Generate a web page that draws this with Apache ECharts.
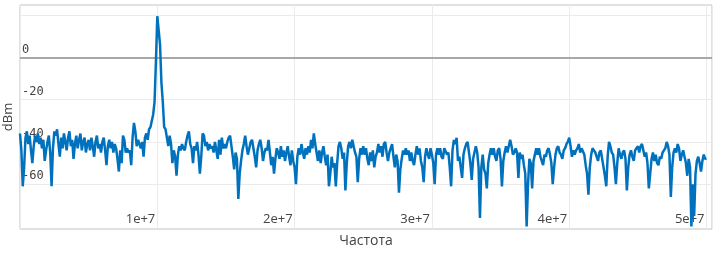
<!DOCTYPE html>
<html>
<head>
<meta charset="utf-8">
<script src="https://cdn.jsdelivr.net/npm/echarts@6/dist/echarts.min.js"></script>
<style>
html,body{margin:0;padding:0;background:#fff;}
#chart{width:721px;height:253px;}
</style>
</head>
<body>
<div id="chart"></div>
<script>
// Frequency grid: first bin and bin spacing (Hz)
const freqStart = 0;
const freqStep = 1e5;

// Power level per frequency bin (dBm)
const levels = [
 -36,-44,-61,-52,-38,-35,-41,-37,-44,-50,
 -42,-37,-40,-36,-41,-38,-43,-39,-49,-44,
 -40,-37,-45,-61,-43,-35,-37,-34,-41,-47,
 -38,-43,-36,-40,-44,-38,-35,-42,-39,-48,
 -41,-37,-43,-39,-36,-44,-40,-38,-45,-41,
 -39,-44,-38,-42,-47,-40,-37,-43,-41,-45,
 -40,-38,-44,-51,-42,-39,-43,-40,-45,-41,
 -43,-48,-54,-44,-50,-37,-39,-45,-43,-45,
 -44,-51,-38,-31,-35,-42,-39,-41,-43,-40,
 -47,-38,-36,-39,-34,-33,-30,-27,-21,-2,
 19.5,20,6,-12,-21,-33,-34,-38,-42,-37,
 -41,-50,-44,-47,-56,-46,-42,-44,-41,-43,
 -44,-40,-37,-35,-41,-43,-50,-42,-44,-40,
 -46,-55,-47,-36,-37,-42,-40,-44,-41,-43,
 -42,-45,-40,-44,-48,-39,-46,-38,-43,-41,
 -43,-40,-38,-37,-42,-47,-53,-45,-48,-67,
 -55,-49,-44,-41,-37,-42,-46,-43,-40,-39,
 -39,-47,-52,-44,-41,-39,-43,-49,-45,-43,
 -44,-39,-45,-51,-47,-55,-48,-43,-45,-48,
 -42,-47,-44,-49,-45,-42,-47,-51,-44,-49,
 -52,-60,-47,-43,-46,-41,-45,-48,-43,-46,
 -42,-45,-39,-43,-36,-41,-45,-49,-44,-50,
 -45,-42,-47,-51,-46,-61,-55,-47,-52,-50,
 -61,-50,-42,-40,-43,-48,-45,-63,-50,-42,
 -40,-43,-39,-42,-45,-47,-59,-48,-43,-46,
 -42,-46,-43,-48,-51,-45,-49,-44,-52,-47,
 -45,-41,-45,-42,-47,-41,-40,-45,-49,-45,
 -45,-41,-47,-52,-46,-49,-64,-53,-48,-44,
 -46,-43,-46,-44,-49,-45,-49,-51,-46,-42,
 -46,-43,-49,-52,-59,-47,-43,-46,-48,-43,
 -46,-50,-60,-46,-43,-46,-43,-47,-48,-43,
 -43,-46,-45,-52,-61,-44,-39,-41,-38,-49,
 -47,-52,-57,-46,-43,-41,-40,-45,-50,-58,
 -48,-45,-42,-45,-52,-76,-52,-46,-53,-55,
 -62,-50,-46,-43,-46,-43,-47,-49,-44,-43,
 -48,-61,-49,-45,-42,-45,-42,-39,-42,-46,
 -45,-43,-45,-57,-45,-48,-46,-51,-55,-80,
 -60,-48,-50,-62,-49,-46,-43,-46,-43,-47,
 -49,-51,-46,-47,-44,-43,-46,-50,-60,-52,
 -46,-43,-42,-45,-46,-48,-44,-43,-41,-40,
 -38,-42,-47,-44,-46,-44,-43,-41,-45,-43,
 -43,-46,-51,-55,-65,-52,-46,-43,-44,-45,
 -47,-49,-45,-44,-48,-52,-56,-61,-47,-40,
 -42,-45,-46,-52,-60,-50,-43,-46,-48,-45,
 -44,-48,-63,-52,-46,-44,-47,-49,-44,-43,
 -42,-45,-42,-41,-44,-47,-45,-50,-62,-55,
 -48,-45,-49,-46,-50,-51,-47,-48,-45,-44,
 -43,-40,-42,-46,-66,-52,-45,-43,-45,-41,
 -43,-49,-46,-44,-47,-50,-56,-48,-52,-80,
 -60,-75,-55,-49,-47,-50,-54,-49,-46,-48,
 -48
];

// Axis ranges and tick labels
const xRange = [0, 5.04e7];
const xTickStep = 1e7;
const xTickLabels = {10000000: '1e+7', 20000000: '2e+7', 30000000: '3e+7', 40000000: '4e+7', 50000000: '5e+7'};
const yRange = [-81.2, 24.8];
const yTickLabels = [0, -20, -40, -60];

const seriesData = levels.map((v, i) => [freqStart + i * freqStep, v]);

const chart = echarts.init(document.getElementById('chart'), null, {renderer: 'canvas'});
chart.setOption({
  animation: false,
  backgroundColor: '#ffffff',
  grid: {left: 20, right: 9, top: 5, bottom: 24, show: true, containLabel: false, outerBoundsMode: 'none',
         borderColor: '#c2c2c2', borderWidth: 1, backgroundColor: 'transparent'},
  xAxis: {
    type: 'value',
    min: xRange[0], max: xRange[1], interval: xTickStep,
    name: 'Частота', nameLocation: 'middle', nameGap: 5,
    nameTextStyle: {fontFamily: 'Open Sans', fontSize: 14, color: '#444', verticalAlign: 'top'},
    axisLine: {show: false}, axisTick: {show: false},
    splitLine: {show: true, lineStyle: {color: '#ebebeb', width: 1}},
    axisLabel: {
      inside: true, margin: 3, align: 'right', padding: [0, 2, 0, 0],
      fontFamily: 'Open Sans', fontSize: 13, color: '#444',
      showMinLabel: false, showMaxLabel: false,
      formatter: v => xTickLabels[Math.round(v)] || ''
    }
  },
  yAxis: {
    type: 'value',
    min: yRange[0], max: yRange[1], splitNumber: 5,
    name: 'dBm', nameLocation: 'middle', nameGap: 5, nameRotate: 90, nameMoveOverlap: false,
    nameTextStyle: {fontFamily: 'Open Sans', fontSize: 13, color: '#444', verticalAlign: 'bottom'},
    axisLine: {show: false}, axisTick: {show: false},
    splitLine: {show: true, lineStyle: {color: ['transparent', 'transparent', '#ebebeb', '#ebebeb', '#ebebeb', '#ebebeb', '#ebebeb', 'transparent'], width: 1}},
    axisLabel: {
      inside: true, margin: 2, verticalAlign: 'bottom', padding: [0, 0, 2, 0],
      fontFamily: 'DejaVu Sans Mono', fontSize: 12, color: '#444',
      showMinLabel: false, showMaxLabel: false,
      formatter: v => (yTickLabels.indexOf(Math.round(v * 10) / 10) >= 0 ? String(v) : '')
    }
  },
  series: [{
    type: 'line',
    data: seriesData,
    showSymbol: false,
    symbol: 'none',
    lineStyle: {color: '#0072bd', width: 2.5},
    z: 3,
    markLine: {
      silent: true, symbol: 'none', animation: false,
      label: {show: false},
      lineStyle: {color: '#a8a8a8', width: 2, type: 'solid'},
      z: 1,
      data: [{yAxis: 0}]
    }
  }]
});
</script>
</body>
</html>
